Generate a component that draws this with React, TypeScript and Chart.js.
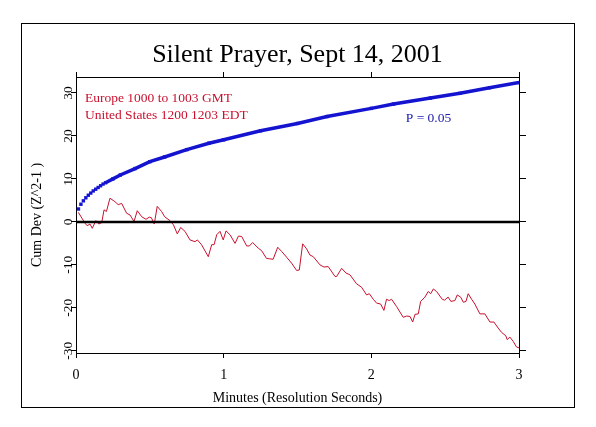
import React, { useEffect, useRef } from "react";
import { Chart, registerables } from "chart.js";

Chart.register(...registerables);

const TITLE = "Silent Prayer, Sept 14, 2001";
const X_TITLE = "Minutes (Resolution Seconds)";
const Y_TITLE = "Cum Dev (Z^2-1 )";
const NOTE_LINES = ["Europe 1000 to 1003 GMT", "United States 1200 1203 EDT"];
const P_LABEL = "P = 0.05";

const X_TICKS = [0, 1, 2, 3];
const Y_TICKS = [-30, -20, -10, 0, 10, 20, 30];

// Red: cumulative deviation (minutes, value)
const redX = [
  0.016, 0.061, 0.076, 0.095, 0.11, 0.135, 0.154, 0.174, 0.19, 0.206,
  0.23, 0.264, 0.286, 0.309, 0.343, 0.366, 0.393, 0.415, 0.445, 0.474,
  0.496, 0.51, 0.53, 0.55, 0.58, 0.6, 0.636, 0.66, 0.686, 0.709,
  0.738, 0.772, 0.806, 0.822, 0.85, 0.896, 0.919, 0.935, 0.953, 0.975,
  0.997, 1.016, 1.043, 1.077, 1.1, 1.122, 1.156, 1.174, 1.196, 1.234,
  1.257, 1.29, 1.313, 1.335, 1.366, 1.393, 1.426, 1.46, 1.494, 1.512,
  1.535, 1.562, 1.584, 1.607, 1.652, 1.679, 1.708, 1.754, 1.765, 1.799,
  1.828, 1.855, 1.9, 1.934, 1.968, 1.986, 2.013, 2.036, 2.063, 2.085,
  2.103, 2.121, 2.137, 2.171, 2.216, 2.239, 2.262, 2.28, 2.296, 2.318,
  2.334, 2.363, 2.385, 2.402, 2.42, 2.442, 2.48, 2.496, 2.52, 2.539,
  2.566, 2.582, 2.605, 2.623, 2.641, 2.656, 2.679, 2.701, 2.735, 2.769,
  2.803, 2.83, 2.859, 2.882, 2.911, 2.92, 2.938, 2.961, 2.983, 3.0,
];
const redY = [
  2.2, -0.3, -0.9, -0.5, -1.5, 0.3, -0.5, -0.2, 2.8, 2.4,
  5.5, 4.7, 4.0, 4.3, 2.0, 1.6, 0.1, 2.6, 1.2, 0.6,
  1.1, 1.0, -0.5, 3.6, 2.4, 1.2, 0.3, -0.7, -2.8, -1.3,
  -2.2, -4.2, -4.6, -4.2, -5.3, -8.1, -5.3, -5.3, -3.0, -2.2,
  -4.2, -2.1, -3.0, -5.0, -3.3, -3.4, -5.6, -5.6, -4.8, -6.1,
  -6.7, -8.5, -8.6, -8.7, -5.9, -6.9, -8.2, -9.6, -11.3, -11.2,
  -5.1, -6.3, -7.7, -8.1, -10.0, -10.5, -10.4, -12.7, -12.7, -10.8,
  -11.9, -12.3, -14.4, -15.2, -17.0, -16.7, -18.0, -18.9, -19.1, -20.6,
  -18.0, -18.3, -18.0, -19.7, -22.2, -21.9, -22.0, -23.3, -21.5, -21.4,
  -18.5, -17.5, -16.2, -16.7, -15.6, -16.2, -18.0, -18.2, -17.5, -18.5,
  -18.3, -17.0, -17.5, -18.7, -18.5, -16.7, -18.0, -19.1, -21.4, -21.4,
  -23.3, -23.3, -24.7, -25.7, -26.5, -27.4, -26.8, -27.8, -29.1, -29.3,
];

// Blue: P = 0.05 envelope (minutes, value)
const blueX = [
  0.0167, 0.0333, 0.05, 0.0667, 0.0833, 0.1, 0.1167, 0.1333, 0.15, 0.1667,
  0.1833, 0.2, 0.25, 0.3, 0.4, 0.5, 0.6, 0.75, 0.9, 1.0,
  1.25, 1.5, 1.7, 2.0, 2.15, 2.4, 2.6, 2.8, 3.0,
];
const blueY = [
  3.0, 4.1, 4.9, 5.6, 6.2, 6.7, 7.2, 7.6, 8.0, 8.4,
  8.8, 9.1, 10.0, 10.9, 12.4, 14.0, 15.1, 16.8, 18.3, 19.1,
  21.2, 22.9, 24.5, 26.4, 27.4, 28.8, 29.9, 31.2, 32.4,
];

const zeroX = [0, 3];
const zeroY = [0, 0];

const X_MIN = 0;
const X_MAX = 3;
const Y_MIN = -30.5;
const Y_MAX = 33.7;

const RED = "#c8102e";
const BLUE = "#1414d0";
const BLUE_TEXT = "#2020b0";
const SERIF = '"Liberation Serif", "DejaVu Serif", serif';

const pts = (xs: number[], ys: number[]) => xs.map((x, i) => ({ x, y: ys[i] }));

const decorPlugin = {
  id: "decor",
  afterDraw(chart: any) {
    const ctx = chart.ctx as CanvasRenderingContext2D;
    const area = chart.chartArea;
    const xs = chart.scales.x;
    const ys = chart.scales.y;
    ctx.save();
    // outer frame
    ctx.strokeStyle = "#000";
    ctx.lineWidth = 1;
    ctx.strokeRect(21.5, 23.5, 553, 384);

    // title
    ctx.fillStyle = "#000";
    ctx.font = `26px ${SERIF}`;
    ctx.textAlign = "center";
    ctx.textBaseline = "alphabetic";
    ctx.fillText(TITLE, (area.left + area.right) / 2, 62);

    // x tick labels
    ctx.font = `14px ${SERIF}`;
    ctx.textBaseline = "middle";
    X_TICKS.forEach((v) => {
      ctx.fillText(String(v), xs.getPixelForValue(v), area.bottom + 22);
    });
    // x title
    ctx.fillText(X_TITLE, (area.left + area.right) / 2, area.bottom + 45);

    // y tick labels (rotated)
    ctx.font = `13.5px ${SERIF}`;
    Y_TICKS.forEach((v) => {
      ctx.save();
      ctx.translate(area.left - 8, ys.getPixelForValue(v));
      ctx.rotate(-Math.PI / 2);
      ctx.fillText(String(v), 0, 0);
      ctx.restore();
    });
    // y title
    ctx.font = `14px ${SERIF}`;
    ctx.save();
    ctx.translate(37, (area.top + area.bottom) / 2);
    ctx.rotate(-Math.PI / 2);
    ctx.fillText(Y_TITLE, 0, 0);
    ctx.restore();

    // annotations
    ctx.font = `13.5px ${SERIF}`;
    ctx.textAlign = "left";
    ctx.fillStyle = RED;
    ctx.fillText(NOTE_LINES[0], area.left + 9, area.top + 21);
    ctx.fillText(NOTE_LINES[1], area.left + 9, area.top + 38);
    ctx.textAlign = "center";
    ctx.fillStyle = BLUE_TEXT;
    ctx.fillText(P_LABEL, 428.5, area.top + 41.5);
    ctx.restore();
  },
};

const axisCommon = (tickLength: number) => ({
  type: "linear" as const,
  grid: {
    drawOnChartArea: false,
    drawTicks: true,
    tickLength,
    color: "#000",
    lineWidth: 1,
  },
  border: { display: true, color: "#000", width: 1 },
  ticks: { display: false },
});

export default function App() {
  const ref = useRef<HTMLCanvasElement | null>(null);
  useEffect(() => {
    if (!ref.current) return;
    const xTicks = (s: any) => {
      s.ticks = X_TICKS.map((v) => ({ value: v }));
    };
    const yTicks = (s: any) => {
      s.ticks = Y_TICKS.map((v) => ({ value: v }));
    };
    const chart = new Chart(ref.current, {
      type: "line",
      data: {
        datasets: [
          {
            label: "zero",
            data: pts(zeroX, zeroY),
            borderColor: "#000",
            borderWidth: 2.5,
            pointRadius: 0,
            xAxisID: "x",
            yAxisID: "y",
          },
          {
            label: "P = 0.05",
            data: pts(blueX, blueY),
            borderColor: BLUE,
            backgroundColor: BLUE,
            borderWidth: 3.5,
            pointStyle: "rect",
            pointRadius: 2.4,
            pointBorderWidth: 0,
            segment: {
              borderColor: (c: any) => (c.p0.parsed.x < 0.19 ? "rgba(0,0,0,0)" : BLUE),
            },
            xAxisID: "x",
            yAxisID: "y",
          },
          {
            label: "Cum Dev",
            data: pts(redX, redY),
            borderColor: RED,
            borderWidth: 1,
            pointRadius: 0,
            tension: 0,
            xAxisID: "x",
            yAxisID: "y",
          },
        ],
      },
      options: {
        animation: false,
        responsive: false,
        devicePixelRatio: 1,
        layout: { padding: 0 },
        plugins: {
          legend: { display: false },
          title: { display: false },
          tooltip: { enabled: false },
        },
        scales: {
          x: {
            ...axisCommon(5),
            position: "bottom",
            min: X_MIN,
            max: X_MAX,
            afterBuildTicks: xTicks,
            afterFit: (s: any) => {
              s.height = 74;
            },
          },
          x2: {
            ...axisCommon(5),
            position: "top",
            min: X_MIN,
            max: X_MAX,
            afterBuildTicks: xTicks,
            afterFit: (s: any) => {
              s.height = 77;
            },
          },
          y: {
            ...axisCommon(5),
            position: "left",
            min: Y_MIN,
            max: Y_MAX,
            afterBuildTicks: yTicks,
            afterFit: (s: any) => {
              s.width = 76;
            },
          },
          y2: {
            ...axisCommon(7),
            position: "right",
            min: Y_MIN,
            max: Y_MAX,
            afterBuildTicks: yTicks,
            afterFit: (s: any) => {
              s.width = 77;
            },
          },
        },
      } as any,
      plugins: [decorPlugin],
    });
    return () => chart.destroy();
  }, []);
  return (
    <div style={{ position: "absolute", left: 0, top: 0, width: 596, height: 427, background: "#fff" }}>
      <canvas ref={ref} width={596} height={427} style={{ display: "block" }} />
    </div>
  );
}
